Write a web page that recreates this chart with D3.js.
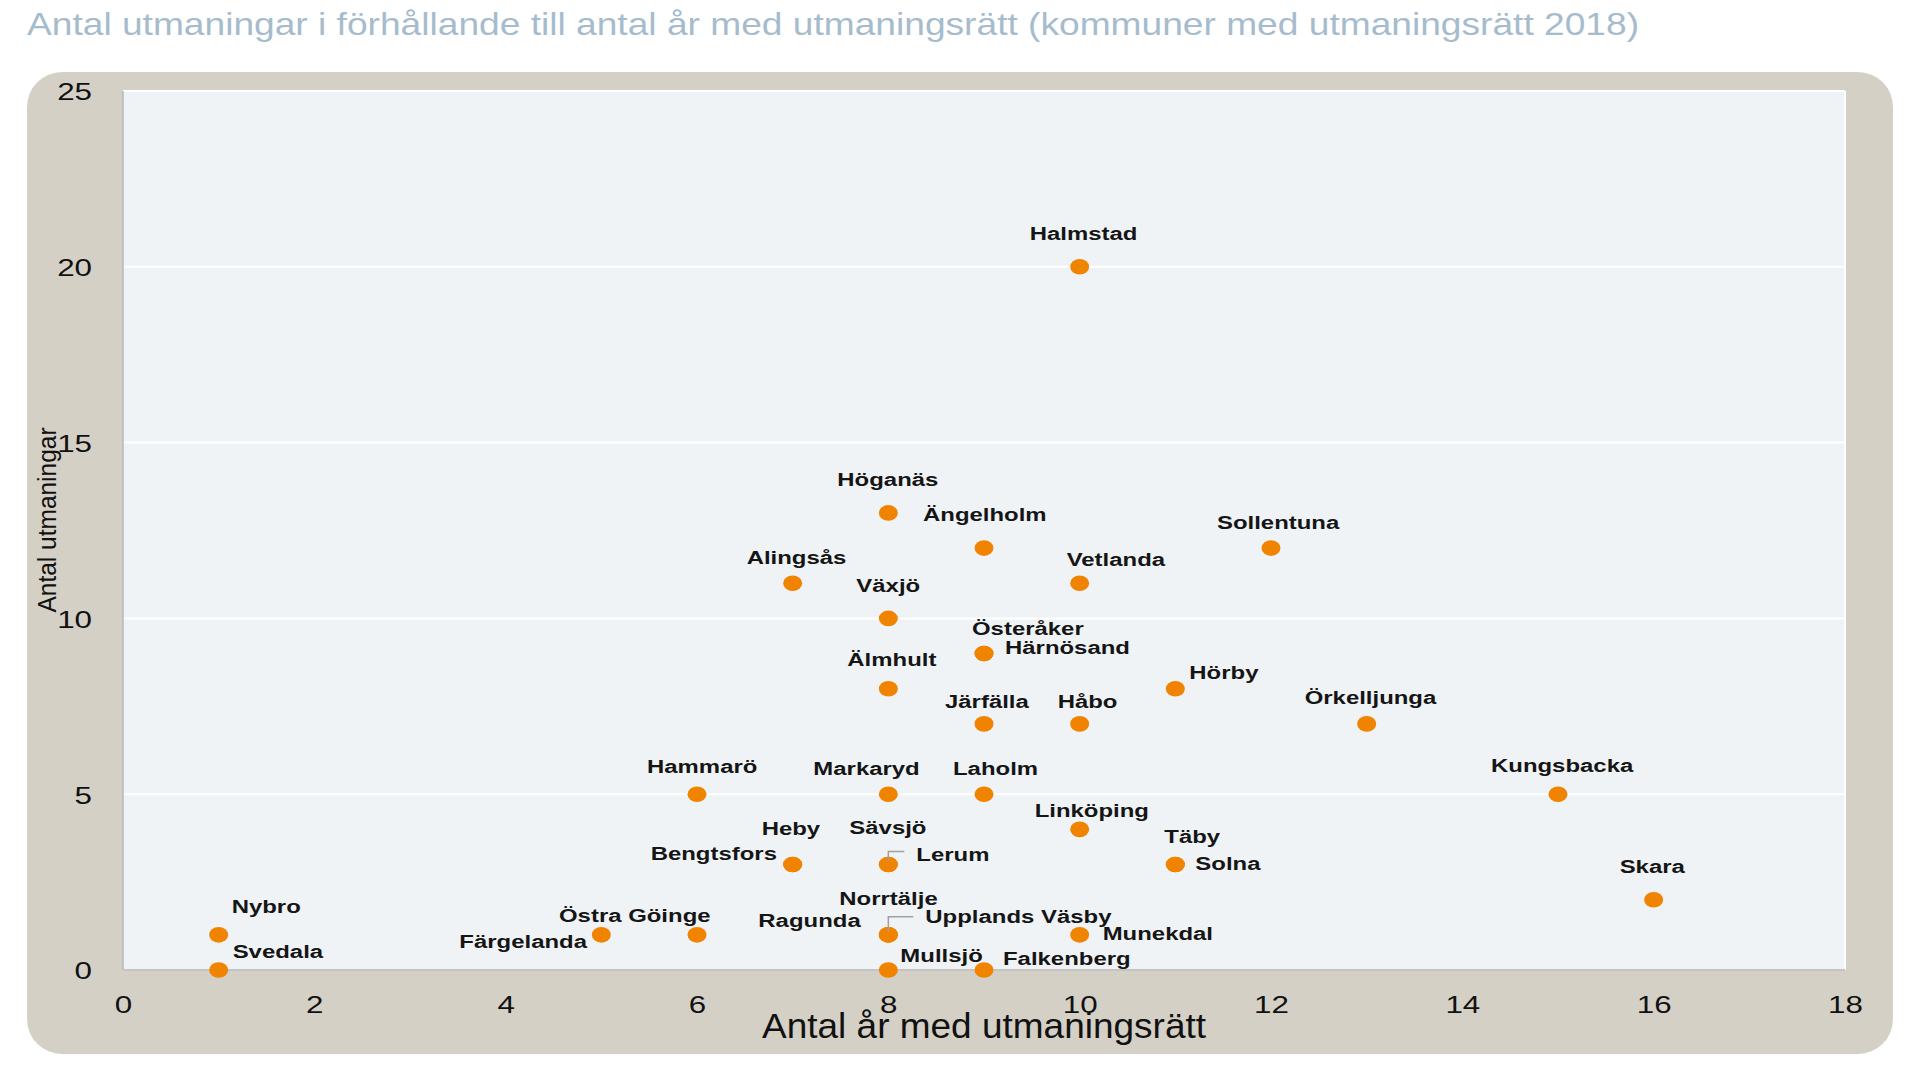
<!DOCTYPE html>
<html>
<head>
<meta charset="utf-8">
<script src="https://cdn.jsdelivr.net/npm/d3@7"></script>
<style>
  body { margin: 0; background: #ffffff; }
  svg { display: block; }
  text { font-family: "Liberation Sans", Arial, sans-serif; }
</style>
</head>
<body>
<div id="chart"></div>
<script>
// data
const kommuner = [
  "Halmstad", "Höganäs", "Ängelholm", "Sollentuna", "Alingsås", "Vetlanda",
  "Växjö", "Österåker", "Härnösand", "Älmhult", "Hörby", "Järfälla",
  "Håbo", "Örkelljunga", "Hammarö", "Markaryd", "Laholm", "Kungsbacka",
  "Linköping", "Heby", "Bengtsfors", "Sävsjö", "Lerum", "Täby",
  "Solna", "Skara", "Nybro", "Färgelanda", "Östra Göinge", "Norrtälje",
  "Ragunda", "Upplands Väsby", "Munekdal", "Svedala", "Mullsjö", "Falkenberg"
];
const arMedRatt = [
  10, 8, 9, 12, 7, 10,
  8, 9, 9, 8, 11, 9,
  10, 13, 6, 8, 9, 15,
  10, 7, 7, 8, 8, 11,
  11, 16, 1, 5, 6, 8,
  8, 8, 10, 1, 8, 9
];
const antalUtmaningar = [
  20, 13, 12, 12, 11, 11,
  10, 9, 9, 8, 8, 7,
  7, 7, 5, 5, 5, 5,
  4, 3, 3, 3, 3, 3,
  3, 2, 1, 1, 1, 1,
  1, 1, 1, 0, 0, 0
];
const xTicks = [0, 2, 4, 6, 8, 10, 12, 14, 16, 18];
const yTicks = [0, 5, 10, 15, 20, 25];
const gridValues = [5, 10, 15, 20];

const titleText = "Antal utmaningar i förhållande till antal år med utmaningsrätt (kommuner med utmaningsrätt 2018)";
const xTitle = "Antal år med utmaningsrätt";
const yTitle = "Antal utmaningar";

// manual label placement, px from the dot (left edge / baseline)
const labelOffset = {
  "Halmstad": [-50, -27], "Höganäs": [-51, -27], "Ängelholm": [-61, -27],
  "Sollentuna": [-54, -19], "Alingsås": [-46, -19], "Vetlanda": [-13, -17],
  "Växjö": [-32, -26], "Österåker": [-12, -19], "Härnösand": [21, 0],
  "Älmhult": [-41, -23], "Hörby": [14, -10], "Järfälla": [-39, -16],
  "Håbo": [-22, -16], "Örkelljunga": [-62, -20], "Hammarö": [-50, -21],
  "Markaryd": [-75, -19], "Laholm": [-31, -19], "Kungsbacka": [-67, -22],
  "Linköping": [-45, -12], "Heby": [-31, -30], "Bengtsfors": [-142, -5],
  "Sävsjö": [-39, -31], "Lerum": [28, -4], "Täby": [-11, -22],
  "Solna": [20, 5], "Skara": [-34, -27], "Nybro": [13, -22],
  "Färgelanda": [-142, 13], "Östra Göinge": [-138, -13], "Norrtälje": [-49, -30],
  "Ragunda": [-130, -8], "Upplands Väsby": [37, -12], "Munekdal": [23, 5],
  "Svedala": [14, -12], "Mullsjö": [12, -8], "Falkenberg": [19, -5]
};
// leader lines, px from the dot
const leaderLines = {
  "Lerum": [[0, -3], [0, -13], [16, -13]],
  "Upplands Väsby": [[0, -3], [0, -18], [25, -18]]
};

const W = 1920, H = 1079;
const plot = { left: 123, right: 1845, top: 91, bottom: 970 };
const textSX = 1.28; // labels and ticks are drawn wider than tall

const svg = d3.select("#chart").append("svg")
  .attr("width", W)
  .attr("height", H);

// title
svg.append("text")
  .attr("x", 27)
  .attr("y", 35)
  .attr("font-size", 30.5)
  .attr("fill", "#a6bccd")
  .attr("textLength", 1612)
  .attr("lengthAdjust", "spacingAndGlyphs")
  .text(titleText);

// outer rounded panel
svg.append("rect")
  .attr("x", 27).attr("y", 72)
  .attr("width", 1866).attr("height", 982)
  .attr("rx", 35).attr("ry", 35)
  .attr("fill", "#d4d0c6");

// plot background
svg.append("rect")
  .attr("x", plot.left).attr("y", plot.top)
  .attr("width", plot.right - plot.left)
  .attr("height", plot.bottom - plot.top)
  .attr("fill", "#eff3f6");

const x = d3.scaleLinear().domain([0, 18]).range([plot.left, plot.right]);
const y = d3.scaleLinear().domain([0, 25]).range([plot.bottom, plot.top]);

// grid lines
svg.append("g")
  .selectAll("line")
  .data(gridValues)
  .join("line")
  .attr("x1", plot.left).attr("x2", plot.right)
  .attr("y1", d => y(d)).attr("y2", d => y(d))
  .attr("stroke", "#ffffff")
  .attr("stroke-width", 2);

// plot edges
svg.append("line")
  .attr("x1", plot.left).attr("x2", plot.right)
  .attr("y1", plot.top).attr("y2", plot.top)
  .attr("stroke", "#ffffff").attr("stroke-width", 2);
svg.append("line")
  .attr("x1", plot.right).attr("x2", plot.right)
  .attr("y1", plot.top).attr("y2", plot.bottom)
  .attr("stroke", "#ffffff").attr("stroke-width", 2);
svg.append("line")
  .attr("x1", plot.left).attr("x2", plot.left)
  .attr("y1", plot.top).attr("y2", plot.bottom)
  .attr("stroke", "#b9b9b9").attr("stroke-width", 1.5);
svg.append("line")
  .attr("x1", plot.left).attr("x2", plot.right)
  .attr("y1", plot.bottom).attr("y2", plot.bottom)
  .attr("stroke", "#c4c4c4").attr("stroke-width", 2);

// axes
const xAxis = svg.append("g")
  .attr("transform", `translate(0,${plot.bottom})`)
  .call(d3.axisBottom(x).tickValues(xTicks).tickSize(0).tickPadding(0));
xAxis.select(".domain").remove();
xAxis.selectAll("text")
  .attr("y", 43)
  .attr("dy", null)
  .attr("font-size", 24.5)
  .attr("fill", "#111111")
  .attr("transform", `scale(${textSX},1)`);

const yAxis = svg.append("g")
  .attr("transform", `translate(${plot.left},0)`)
  .call(d3.axisLeft(y).tickValues(yTicks).tickSize(0));
yAxis.select(".domain").remove();
yAxis.selectAll("text")
  .attr("x", -31 / textSX)
  .attr("dy", "0.36em")
  .attr("font-size", 24.5)
  .attr("fill", "#111111")
  .attr("transform", `scale(${textSX},1)`);

// axis titles
svg.append("text")
  .attr("transform", `translate(${(plot.left + plot.right) / 2},1038) scale(1.057,1)`)
  .attr("text-anchor", "middle")
  .attr("font-size", 35)
  .attr("fill", "#111111")
  .text(xTitle);

svg.append("text")
  .attr("transform", "translate(56,520) rotate(-90) scale(1,1.08)")
  .attr("text-anchor", "middle")
  .attr("font-size", 24.5)
  .attr("fill", "#111111")
  .text(yTitle);

// points
const pts = kommuner.map((k, i) => ({ name: k, x: arMedRatt[i], y: antalUtmaningar[i] }));

svg.append("g")
  .selectAll("ellipse")
  .data(pts)
  .join("ellipse")
  .attr("cx", d => x(d.x))
  .attr("cy", d => y(d.y))
  .attr("rx", 9.5)
  .attr("ry", 7.8)
  .attr("fill", "#f08400");

// leader lines
svg.append("g")
  .selectAll("polyline")
  .data(pts.filter(d => leaderLines[d.name]))
  .join("polyline")
  .attr("points", d => leaderLines[d.name].map(p => [x(d.x) + p[0], y(d.y) + p[1]].join(",")).join(" "))
  .attr("fill", "none")
  .attr("stroke", "#a0a0a0")
  .attr("stroke-width", 1.5);

// data labels
svg.append("g")
  .selectAll("text")
  .data(pts)
  .join("text")
  .attr("transform", d => {
    const o = labelOffset[d.name] || [8, -10];
    return `translate(${x(d.x) + o[0]},${y(d.y) + o[1]}) scale(${textSX},1)`;
  })
  .attr("font-size", 18.7)
  .attr("font-weight", "bold")
  .attr("fill", "#151515")
  .text(d => d.name);
</script>
</body>
</html>
